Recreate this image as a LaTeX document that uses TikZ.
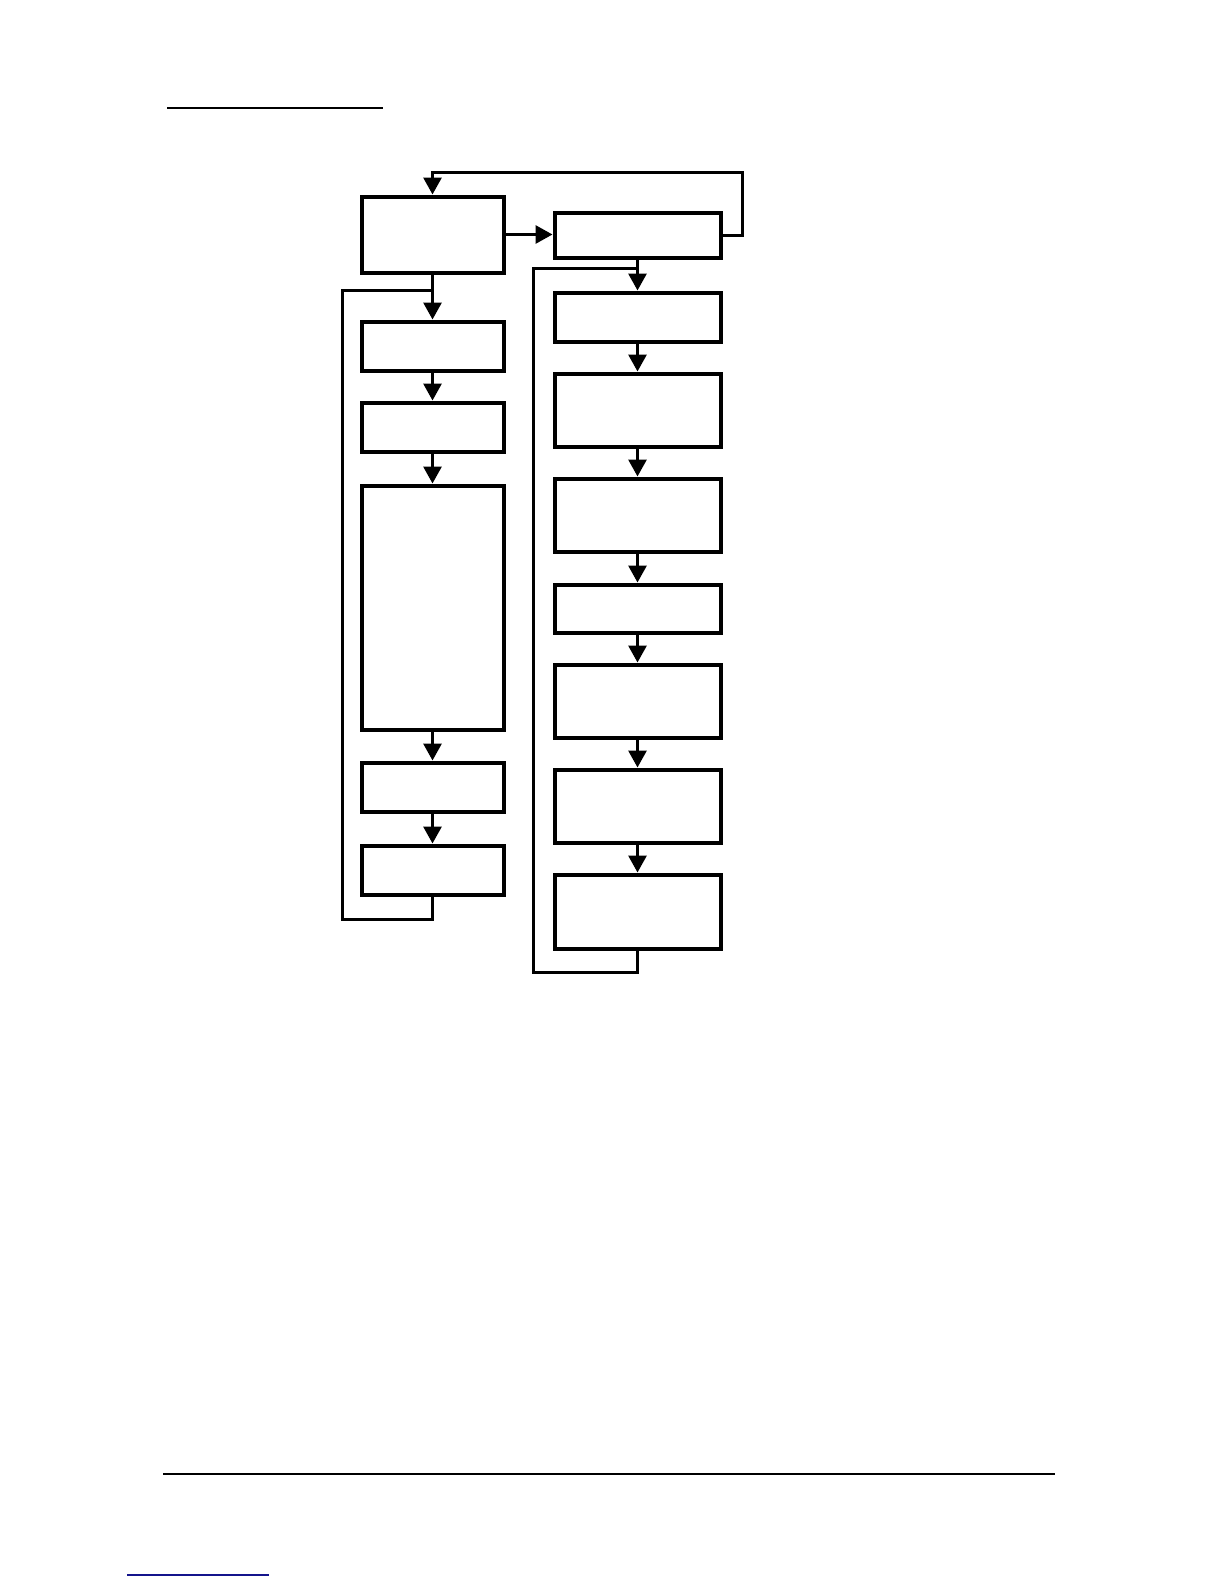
\documentclass[tikz,border=0pt]{standalone}
\usetikzlibrary{calc,arrows.meta}
\tikzset{
  step box/.style={
    % The shape:
    rectangle,
    % The size:
    minimum width=71pt,
    minimum height=24.5pt,
    inner sep=0pt,
    % The border:
    line width=2pt,
    draw=black,
    % The filling:
    fill=white
  },
  wide box/.style={
    step box,
    minimum width=83pt
  },
  flow/.style={
    line width=1.5pt,
    -{Triangle[width=9pt,length=8.5pt]}
  },
  loop line/.style={
    line width=1.5pt
  }
}
\definecolor{linkblue}{RGB}{20,20,140}

\begin{document}
\begin{tikzpicture}[x=0.5pt,y=-0.5pt]

  \useasboundingbox (0,0) rectangle (1224,1584);

  % page rules
  \draw [line width=0.6pt] (167,108) -- (383,108);
  \draw [line width=0.7pt] (163,1474) -- (1055,1474);
  \draw [line width=0.7pt, linkblue] (127,1575) -- (269,1575);

  % left column
  \node at (432.5, 234.5) (l0) [step box, minimum height=38pt] {};
  \node at (432.5, 346) (l1) [step box] {};
  \node at (432.5, 427) (l2) [step box] {};
  \node at (432.5, 607.5) (l3) [step box, minimum height=122pt] {};
  \node at (432.5, 787) (l4) [step box] {};
  \node at (432.5, 870) (l5) [step box] {};

  % right column
  \node at (637.5, 235) (r0) [wide box, minimum height=22.5pt] {};
  \node at (637.5, 317) (r1) [wide box] {};
  \node at (637.5, 410) (r2) [wide box, minimum height=36.5pt] {};
  \node at (637.5, 515) (r3) [wide box, minimum height=36.5pt] {};
  \node at (637.5, 608.5) (r4) [wide box, minimum height=24pt] {};
  \node at (637.5, 701) (r5) [wide box, minimum height=36.5pt] {};
  \node at (637.5, 806) (r6) [wide box, minimum height=36.5pt] {};
  \node at (637.5, 911.5) (r7) [wide box, minimum height=37pt] {};

  % loop corners
  \coordinate (top loop) at (742, 172);
  \coordinate (left loop top) at (342, 290);
  \coordinate (left loop end) at (342, 919);
  \coordinate (right loop top) at (533, 268);
  \coordinate (right loop end) at (533, 972);

  \draw [flow] (l0.east) to (l0.east -| r0.west);
  \draw [flow] (r0.east) -| (top loop) -| (l0.north);

  \draw [flow] (l0) to (l1);
  \draw [flow] (l1) to (l2);
  \draw [flow] (l2) to (l3);
  \draw [flow] (l3) to (l4);
  \draw [flow] (l4) to (l5);
  \draw [loop line] (l5.south) |- (left loop end) to (left loop top) to (left loop top -| l0.south);

  \draw [flow] (r0) to (r1);
  \draw [flow] (r1) to (r2);
  \draw [flow] (r2) to (r3);
  \draw [flow] (r3) to (r4);
  \draw [flow] (r4) to (r5);
  \draw [flow] (r5) to (r6);
  \draw [flow] (r6) to (r7);
  \draw [loop line] (r7.south) |- (right loop end) to (right loop top) to (right loop top -| r0.south);

\end{tikzpicture}
\end{document}
